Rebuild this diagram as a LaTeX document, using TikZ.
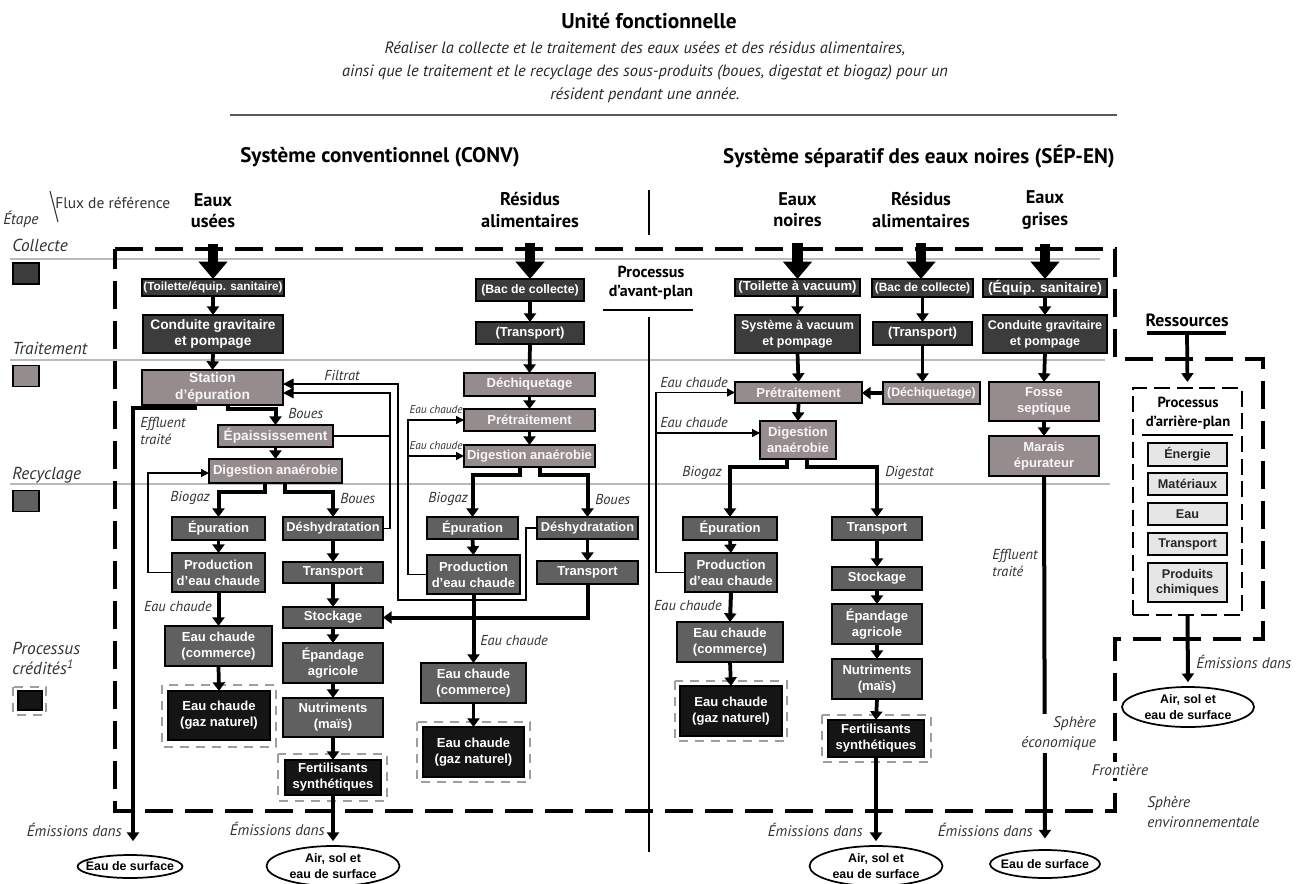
\documentclass[tikz,border=0pt]{standalone}
\usepackage{fontspec}
\setmainfont{Liberation Sans}
\newfontfamily\pts{PT Sans}
\usetikzlibrary{arrows.meta,calc,shapes.geometric}
\definecolor{collc}{HTML}{3C3C3C}
\definecolor{trtc}{HTML}{968B8D}
\definecolor{recc}{HTML}{606060}
\definecolor{credc}{HTML}{151515}
\definecolor{bgc}{HTML}{E6E6E6}
\newcommand{\mkbox}[7]{%
  \pgfmathsetmacro{\mkbw}{(#5-#3)*0.75}%
  \pgfmathsetmacro{\mkbh}{(#6-#4)*0.75}%
  \node[#2,minimum width=\mkbw pt,minimum height=\mkbh pt] (#1) at ({(#3+#5)/2},{(#4+#6)/2}) {#7};}
\newcommand{\mkframe}[4]{\draw[cframe] (#1,#2) rectangle (#3,#4);}
\tikzset{
 box/.style={draw=black, line width=1.3pt, inner sep=1pt, outer sep=0pt, align=center, text=white, font=\fontsize{9.8}{12}\selectfont\bfseries},
 cbox/.style={box, fill=collc},
 tbox/.style={box, fill=trtc, text=black!3},
 rbox/.style={box, fill=recc},
 kbox/.style={box, fill=credc},
 gbox/.style={box, fill=bgc, text=black!85, font=\fontsize{9.5}{11.5}\selectfont\bfseries},
 bgframe/.style={draw=black, line width=1.2pt, dash pattern=on 12pt off 5pt, inner sep=0pt},
 cframe/.style={draw=black!38, line width=1.6pt, dash pattern=on 7pt off 5pt},
 bnd/.style={line width=3pt, dash pattern=on 21pt off 9pt},
 big/.style={line width=8pt, -{Triangle[length=13pt,width=21pt]}},
 arr/.style={line width=2.8pt, -{Triangle[length=6.5pt,width=9pt]}},
 thk/.style={line width=3pt},
 thka/.style={line width=3pt, -{Triangle[length=6.5pt,width=9pt]}},
 thn/.style={line width=1.1pt, -{Triangle[length=6pt,width=6pt]}},
 thnf/.style={line width=1.1pt, -{Triangle[length=8pt,width=8pt]}},
 lab/.style={font=\pts\itshape\fontsize{10.8}{12.5}\selectfont, text=black!80, inner sep=0pt, align=left},
 labs/.style={font=\pts\itshape\fontsize{8.5}{10}\selectfont, text=black!80, inner sep=0pt},
 labb/.style={font=\pts\itshape\fontsize{11.5}{14.5}\selectfont, text=black!80, inner sep=0pt},
 stg/.style={font=\pts\itshape\fontsize{13}{15}\selectfont, text=black!80, inner sep=0pt, anchor=west, align=left},
 hdr/.style={font=\pts\bfseries\fontsize{13.8}{16}\selectfont, align=center, inner sep=0pt},
 sys/.style={font=\pts\bfseries\fontsize{15.8}{18}\selectfont, inner sep=0pt},
 elli/.style={ellipse, draw, line width=1.3pt, inner sep=0pt, fill=white},
 eltxt/.style={align=center, inner sep=0pt, font=\fontsize{9.3}{12}\selectfont\bfseries},
 stline/.style={draw=black!27, line width=1.5pt},
 lgsq/.style={draw, line width=1.2pt, inner sep=0pt, minimum width=19.5pt, minimum height=15.75pt},
}
\begin{document}
\begin{tikzpicture}[x=0.75pt,y=-0.75pt]
\useasboundingbox (0,0) rectangle (1297,883);
\fill[white] (0,0) rectangle (1297,883);

% ---------- title ----------
\node[font=\pts\bfseries\fontsize{16}{18}\selectfont, inner sep=0pt] (tit) at (649,21) {Unité fonctionnelle};
\node[font=\pts\itshape\fontsize{12.3}{17.25}\selectfont, align=center, inner sep=0pt, text=black!85] (para) at (645,72)
 {Réaliser la collecte et le traitement des eaux usées et des résidus alimentaires,\\
  ainsi que le traitement et le recyclage des sous-produits (boues, digestat et biogaz) pour un\\
  résident pendant une année.};
\draw[line width=1.5pt, black!65] (230,115) -- (1117,115);
\node[sys] (s1) at (380,157) {Système conventionnel (CONV)};
\node[sys] (s2) at (919,157) {Système séparatif des eaux noires (SÉP-EN)};

% ---------- stage lines and legend ----------
\draw[stline] (10,259) -- (1100,259);
\draw[stline] (10,360) -- (1105,360);
\draw[stline] (10,484) -- (1110,484);
\node[font=\pts\fontsize{11.6}{13}\selectfont, inner sep=0pt, anchor=west, text=black!80] (flux) at (55,203) {Flux de référence};
\node[font=\pts\itshape\fontsize{11.6}{13}\selectfont, inner sep=0pt, anchor=west, text=black!80] (etape) at (3,219) {Étape};
\draw[line width=0.8pt, black!80] (50,191) -- (58,222);
\node[stg] (stc) at (12,245) {Collecte};
\node[stg] (stt) at (12,348) {Traitement};
\node[stg] (str) at (12,475) {Recyclage};
\node[stg] (stp) at (12,658) {Processus\\crédités\textsuperscript{1}};
\node[lgsq, fill=collc] (lg1) at (26,273.5) {};
\node[lgsq, fill=trtc] (lg2) at (26,376) {};
\node[lgsq, fill=recc] (lg3) at (26,501) {};
\mkframe{13}{687}{46}{715}
\node[lgsq, fill=credc, minimum width=18pt, minimum height=14.25pt] (lg4) at (30,700.5) {};

% ---------- system boundary ----------
\draw[bnd] (115,249) -- (1115,249) -- (1115,359) -- (1263,359) -- (1263,639) -- (1115,639) -- (1115,811) -- (115,811) -- cycle;
\draw[line width=0.8pt] (649,190) -- (649,235);
\draw[line width=0.8pt] (649,317) -- (649,852);
\node[font=\pts\bfseries\fontsize{12}{14}\selectfont, align=center, inner sep=0pt] (avp) at (651,283) {Processus\\d’avant-plan};
\draw[line width=1.2pt] (603,310) -- (693,310);

% ---------- headers ----------
\node[hdr] (h1) at (213,211) {Eaux\\usées};
\node[hdr] (h2) at (530,210) {Résidus\\alimentaires};
\node[hdr] (h3) at (797.5,210) {Eaux\\noires};
\node[hdr] (h4) at (921,210) {Résidus\\alimentaires};
\node[hdr] (h5) at (1045,210) {Eaux\\grises};

% ---------- collecte boxes ----------
\mkbox{tca}{cbox,font=\fontsize{8.8}{11}\selectfont\bfseries}{143}{279}{283}{296}{(Toilette/équip. sanitaire)}
\mkbox{cga}{cbox,font=\fontsize{10.3}{12.5}\selectfont\bfseries}{143}{315}{283}{353}{Conduite gravitaire\\et pompage}
\mkbox{bca}{cbox,font=\fontsize{9.2}{11}\selectfont\bfseries}{476}{279}{584}{301}{(Bac de collecte)}
\mkbox{tra}{cbox}{476}{322}{584}{344}{(Transport)}
\mkbox{tv}{cbox}{735}{279}{860}{296}{(Toilette à vacuum)}
\mkbox{sv}{cbox,font=\fontsize{9.4}{12}\selectfont\bfseries}{735}{315}{860}{353}{Système à vacuum\\et pompage}
\mkbox{bcb}{cbox,font=\fontsize{9.0}{11}\selectfont\bfseries}{872}{279}{973}{297}{(Bac de collecte)}
\mkbox{trb}{cbox}{873}{322}{972}{345}{(Transport)}
\mkbox{eq}{cbox,font=\fontsize{10.4}{12}\selectfont\bfseries}{983}{279}{1107}{297}{(Équip. sanitaire)}
\mkbox{cgb}{cbox,font=\fontsize{9.4}{12}\selectfont\bfseries}{983}{315}{1107}{353}{Conduite gravitaire\\et pompage}

% ---------- treatment boxes ----------
\mkbox{sta}{tbox,font=\fontsize{10.3}{12.5}\selectfont\bfseries}{142}{370}{283}{405}{Station\\d’épuration}
\mkbox{epa}{tbox,font=\fontsize{10.3}{12}\selectfont\bfseries}{218}{425}{333}{447}{Épaississement}
\mkbox{daa}{tbox}{209}{459}{342}{483}{Digestion anaérobie}
\mkbox{dea}{tbox}{464}{373}{595}{396}{Déchiquetage}
\mkbox{pta}{tbox}{464}{409}{595}{431}{Prétraitement}
\mkbox{dab}{tbox}{464}{445}{595}{467}{Digestion anaérobie}
\mkbox{ptb}{tbox}{735}{382}{862}{403}{Prétraitement}
\mkbox{deb}{tbox,font=\fontsize{9.2}{11}\selectfont\bfseries}{883}{382}{980}{404}{(Déchiquetage)}
\mkbox{dac}{tbox}{760}{421}{836}{459}{Digestion\\anaérobie}
\mkbox{fs}{tbox}{989}{382}{1099}{421}{Fosse\\septique}
\mkbox{me}{tbox}{989}{436}{1099}{476}{Marais\\épurateur}

% ---------- recycling boxes ----------
\mkbox{epua}{rbox}{172}{517}{265}{540}{Épuration}
\mkbox{peca}{rbox}{172}{553}{265}{592}{Production\\d’eau chaude}
\mkbox{ecca}{rbox}{165}{626}{272}{666}{Eau chaude\\(commerce)}
\mkbox{dha}{rbox,font=\fontsize{9.6}{12}\selectfont\bfseries}{283}{517}{383}{540}{Déshydratation}
\mkbox{tpa}{rbox}{283}{562}{383}{583}{Transport}
\mkbox{ska}{rbox}{283}{607}{383}{628}{Stockage}
\mkbox{eaa}{rbox}{283}{643}{383}{683}{Épandage\\agricole}
\mkbox{nua}{rbox}{283}{698}{383}{737}{Nutriments\\(maïs)}
\mkbox{epub}{rbox}{427}{517}{518}{539}{Épuration}
\mkbox{pecb}{rbox}{427}{555}{520}{594}{Production\\d’eau chaude}
\mkbox{eccb}{rbox}{421}{663}{526}{703}{Eau chaude\\(commerce)}
\mkbox{dhb}{rbox,font=\fontsize{9.6}{12}\selectfont\bfseries}{537}{517}{638}{539}{Déshydratation}
\mkbox{tpb}{rbox}{537}{561}{638}{584}{Transport}
\mkbox{epuc}{rbox}{683}{517}{777}{540}{Épuration}
\mkbox{pecc}{rbox}{685}{553}{777}{592}{Production\\d’eau chaude}
\mkbox{eccc}{rbox}{677}{622}{783}{662}{Eau chaude\\(commerce)}
\mkbox{tpc}{rbox}{832}{517}{922}{540}{Transport}
\mkbox{skc}{rbox}{832}{567}{922}{590}{Stockage}
\mkbox{eac}{rbox}{832}{604}{922}{644}{Épandage\\agricole}
\mkbox{nuc}{rbox}{832}{659}{922}{699}{Nutriments\\(maïs)}

% ---------- credited processes ----------
\mkframe{162}{685}{276}{747}
\mkbox{gna}{kbox}{168}{691}{270}{740}{Eau chaude\\(gaz naturel)}
\mkframe{278}{754}{387}{801}
\mkbox{fea}{kbox}{285}{760}{381}{795}{Fertilisants\\synthétiques}
\mkframe{417}{722}{530}{782}
\mkbox{gnb}{kbox}{423}{727}{524}{777}{Eau chaude\\(gaz naturel)}
\mkframe{675}{681}{787}{741}
\mkbox{gnc}{kbox}{680}{686}{782}{736}{Eau chaude\\(gaz naturel)}
\mkframe{822}{715}{931}{762}
\mkbox{fec}{kbox}{828}{720}{924}{757}{Fertilisants\\synthétiques}

% ---------- background processes ----------
\node[font=\pts\bfseries\fontsize{13.3}{14}\selectfont, inner sep=0pt] (res) at (1187,320) {Ressources};
\mkbox{bkg}{bgframe}{1133}{388}{1242}{615}{}
\node[font=\pts\bfseries\fontsize{11}{14}\selectfont, align=center, inner sep=0pt] (arp) at (1188,413) {Processus\\d’arrière-plan};
\draw[line width=1.2pt] (1142,435) -- (1233,435);
\mkbox{ene}{gbox}{1148}{443}{1227}{466}{Énergie}
\mkbox{mat}{gbox}{1148}{473}{1227}{495}{Matériaux}
\mkbox{eau}{gbox}{1148}{503}{1227}{525}{Eau}
\mkbox{tbg}{gbox}{1148}{533}{1227}{555}{Transport}
\mkbox{pch}{gbox}{1148}{563}{1227}{602}{Produits\\chimiques}

% ---------- ellipses ----------
\node[elli, minimum width=78.75pt, minimum height=17.25pt] (el1) at (130,866.5) {};
\node[eltxt] (el1t) at (el1) {Eau de surface};
\node[elli, minimum width=99.75pt, minimum height=30pt] (el2) at (333,866) {};
\node[eltxt] (el2t) at (el2) {Air, sol et\\eau de surface};
\node[elli, minimum width=99.75pt, minimum height=30pt] (el3) at (876,866) {};
\node[eltxt] (el3t) at (el3) {Air, sol et\\eau de surface};
\node[elli, minimum width=82.5pt, minimum height=21pt] (el4) at (1045,864) {};
\node[eltxt] (el4t) at (el4) {Eau de surface};
\node[elli, minimum width=99pt, minimum height=30pt] (el5) at (1188,707) {};
\node[eltxt] (el5t) at (el5) {Air, sol et\\eau de surface};

% ---------- input arrows ----------
\draw[big] ($(h1.south)+(0,15)$) -- (tca.north);
\draw[big] ($(h2.south)+(0,15)$) -- (bca.north);
\draw[big] ($(h3.south)+(0,15)$) -- (tv.north);
\draw[big] ($(h4.south)+(0,15)$) -- (h4.south |- bcb.north);
\draw[big] ($(h5.south)+(0,15)$) -- (eq.north);

% ---------- CONV wastewater ----------
\draw[arr] (tca.south) -- (cga.north);
\draw[arr] (cga.south) -- (sta.north);
\draw[thka] ($(sta.south)+(15.5,0)$) -- ++(0,4) -| (epa.north);
\draw[thka] ($(sta.south)+(-17.5,0)$) -- ++(0,3) -| ($(el1.north)+(3,-13)$);
\draw[arr] (epa.south) -- (daa.north);
\draw[thka] ($(daa.south)+(-10.5,0)$) -- ++(0,9) -| (epua.north);
\draw[thka] ($(daa.south)+(9.5,0)$) -- ++(0,9) -| (dha.north);
\draw[arr] (epua.south) -- (peca.north);
\draw[thn] (peca.west) -- ++(-24,0) |- ($(daa.west)+(0,2)$);
\draw[thka] (peca.south) -- (ecca.north);
\draw[arr] (ecca.south) -- (gna.north);
\draw[arr] (dha.south) -- (tpa.north);
\draw[arr] (tpa.south) -- (ska.north);
\draw[arr] (ska.south) -- (eaa.north);
\draw[arr] (eaa.south) -- (nua.north);
\draw[arr] (nua.south) -- (fea.north);
\draw[thka, shorten >=3pt] (fea.south) -- (el2.north);
% filtrat
\draw[line width=1.1pt] (epa.east) -- ++(57,0);
\draw[thnf] (dha.east) -- ++(7,0) |- ($(sta.east)+(0,5.5)$);
\draw[thnf] (dhb.west) -- ++(-11,0) |- (398,600) |- ($(sta.east)+(0,-3.5)$);

% ---------- CONV food waste ----------
\draw[arr] (bca.south) -- (tra.north);
\draw[arr] (tra.south) -- (dea.north);
\draw[arr] (dea.south) -- (pta.north);
\draw[arr] (pta.south) -- (dab.north);
\draw[thka] ($(dab.south)+(-9.5,0)$) -- ++(0,8) -| (epub.north);
\draw[thka] ($(dab.south)+(10.5,0)$) -- ++(0,8) -| (dhb.north);
\draw[arr] (epub.south) -- (pecb.north);
\draw[arr] (dhb.south) -- (tpb.north);
\draw[thn] (pecb.west) -- ++(-19,0) |- (pta.west);
\draw[thn] ($(dab.west -| pecb.west)+(-19,0)$) -- (dab.west);
\draw[thka] (pecb.south) -- (eccb.north);
\draw[arr] (eccb.south) -- (gnb.north);
\draw[thka] (tpb.south) |- (ska.east);

% ---------- SEP black water & food waste ----------
\draw[arr] (tv.south) -- (sv.north);
\draw[arr] (sv.south) -- (ptb.north);
\draw[arr] (ptb.south) -- (dac.north);
\draw[arr] (bcb.south) -- (trb.north);
\draw[arr] (trb.south) -- (trb.south |- deb.north);
\draw[arr] (deb.west) -- (deb.west -| ptb.east);
\draw[thka] ($(dac.south)+(-11,0)$) -- ++(0,8) -| (epuc.north);
\draw[thka] ($(dac.south)+(9,0)$) -- ++(0,8) -| (tpc.north);
\draw[arr] (epuc.south) -- (pecc.north);
\draw[thn] (pecc.west) -- ++(-29,0) |- (ptb.west);
\draw[thn] ($(dac.west -| pecc.west)+(-29,-7)$) -- ($(dac.west)+(0,-7)$);
\draw[thka] (pecc.south) -- (eccc.north);
\draw[arr] (eccc.south) -- (gnc.north);
\draw[arr] (tpc.south) -- (skc.north);
\draw[arr] (skc.south) -- (eac.north);
\draw[arr] (eac.south) -- (nuc.north);
\draw[arr] (nuc.south) -- (fec.north);
\draw[thka, shorten >=3pt] (fec.south) -- (el3.north);

% ---------- grey water ----------
\draw[arr] (eq.south) -- (cgb.north);
\draw[arr] (cgb.south) -- (fs.north);
\draw[arr] (fs.south) -- (me.north);
\draw[thka, shorten >=8pt] (me.south) -- (el4.north);

% ---------- resources ----------
\coordinate (rb) at (1187,333);
\draw[thk] ($(rb)+(-40,0)$) -- ($(rb)+(39,0)$);
\draw[arr, shorten >=4pt] (rb) -- (bkg.north);
\draw[thka, shorten >=3pt] (bkg.south) -- (el5.north);

% ---------- labels ----------
\node[lab] (lfil) at (342,375) {Filtrat};
\node[lab, anchor=west] (lbo1) at (288,413) {Boues};
\node[lab, anchor=west] (lef1) at (140,431) {Effluent\\traité};
\node[lab, anchor=east] (lbi1) at (210,498) {Biogaz};
\node[lab, anchor=west] (lbo2) at (340,498) {Boues};
\node[lab, anchor=east] (lec1) at (212,607) {Eau chaude};
\node[labs, anchor=east] (lec2) at (463,410) {Eau chaude};
\node[labs, anchor=east] (lec3) at (463,446) {Eau chaude};
\node[lab, anchor=east] (lbi2) at (468,499) {Biogaz};
\node[lab, anchor=west] (lbo3) at (595,499) {Boues};
\node[lab, anchor=west] (lec4) at (480,641) {Eau chaude};
\node[lab, anchor=west] (lec5) at (660,383) {Eau chaude};
\node[lab, anchor=west] (lec6) at (660,423) {Eau chaude};
\node[lab, anchor=east] (lbi3) at (722,473) {Biogaz};
\node[lab, anchor=west] (ldig) at (885,473) {Digestat};
\node[lab, anchor=east] (lec7) at (722,606) {Eau chaude};
\node[lab, anchor=west] (lef2) at (992,563) {Effluent\\traité};
\node[labb, anchor=east] (em1) at (122,830) {Émissions dans};
\node[labb, anchor=east] (em2) at (325,829) {Émissions dans};
\node[labb, anchor=east] (em3) at (863,830) {Émissions dans};
\node[labb, anchor=east] (em4) at (1033,830) {Émissions dans};
\node[labb, anchor=west] (em5) at (1196,662) {Émissions dans};
\node[labb, anchor=east, align=right, fill=white, inner sep=2pt] (sph1) at (1099,733.5) {Sphère\\économique};
\node[labb, fill=white, inner sep=2pt] (fro) at (1120,770) {Frontière};
\node[labb, anchor=west, align=left] (sph2) at (1147,812) {Sphère\\environnementale};
\end{tikzpicture}
\end{document}
